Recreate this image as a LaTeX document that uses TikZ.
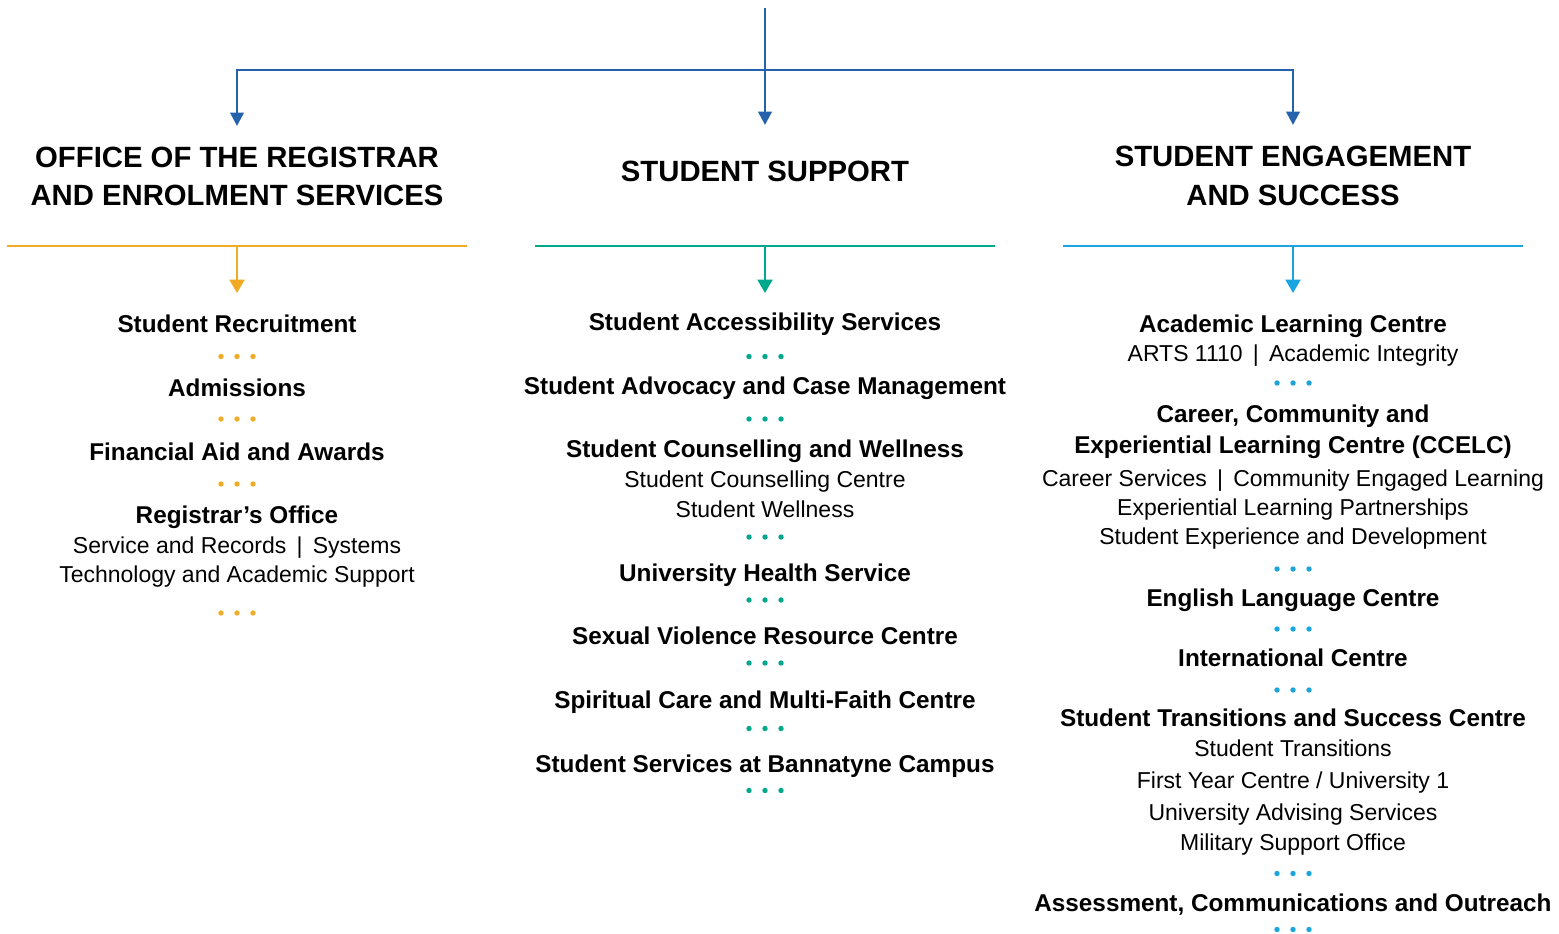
\documentclass[tikz,border=0pt]{standalone}
\usepackage{fontspec}
\setmainfont{Liberation Sans}
\usetikzlibrary{arrows.meta}

\definecolor{trunkblue}{RGB}{36,99,172}
\definecolor{regorange}{RGB}{241,170,36}
\definecolor{suppgreen}{RGB}{0,168,140}
\definecolor{engblue}{RGB}{27,165,224}

\tikzset{
  head/.style={font=\fontsize{29.3}{32}\selectfont\bfseries, anchor=base, inner sep=0pt},
  unit/.style={font=\fontsize{24.3}{28}\selectfont\bfseries, anchor=base, inner sep=0pt},
  sub/.style={font=\fontsize{23}{27}\selectfont, anchor=base, inner sep=0pt},
  trunk/.style={draw=trunkblue, line width=2.8pt},
  trunkarrow/.style={trunk, -{Triangle[width=13.5pt,length=13.5pt]}},
  rule/.style={line width=2.8pt},
  droparrow/.style={line width=2.4pt, -{Triangle[width=15pt,length=13.5pt]}},
  sepdots/.pic={\foreach \dx in {-16,0,16} \fill (\dx,0) circle[radius=2.7];}
}

\begin{document}
\begin{tikzpicture}[x=1pt,y=-1pt]
\useasboundingbox (0,0) rectangle (1559,934);

% ---- top trunk and the three branches
\coordinate (root) at (765,8);
\coordinate (junction) at (765,70);
\coordinate (tipL) at (237,126);
\coordinate (tipM) at (765,125);
\coordinate (tipR) at (1293,125);
\draw[trunk] (root) -- (junction);
\draw[trunkarrow] (junction) -| (tipL);
\draw[trunkarrow] (junction) -- (tipM);
\draw[trunkarrow] (junction) -| (tipR);

% ---- division headings
\node[head] (hdL1) at (237,167) {OFFICE OF THE REGISTRAR};
\node[head] (hdL2) at (237,205) {AND ENROLMENT SERVICES};
\node[head] (hdM)  at (765,181.5) {STUDENT SUPPORT};
\node[head] (hdR1) at (1293,166) {STUDENT ENGAGEMENT};
\node[head] (hdR2) at (1293,205) {AND SUCCESS};

% ---- coloured rules with drop arrows
\coordinate (ruleLw) at (7,246);    \coordinate (ruleLe) at (467,246);
\coordinate (ruleMw) at (535,246);  \coordinate (ruleMe) at (995,246);
\coordinate (ruleRw) at (1063,246); \coordinate (ruleRe) at (1523,246);
\coordinate (ruleL) at (237,246);   \coordinate (dropL) at (237,293);
\coordinate (ruleM) at (765,246);   \coordinate (dropM) at (765,293);
\coordinate (ruleR) at (1293,246);  \coordinate (dropR) at (1293,293);
\draw[rule, regorange] (ruleLw) -- (ruleLe);
\draw[rule, suppgreen] (ruleMw) -- (ruleMe);
\draw[rule, engblue]   (ruleRw) -- (ruleRe);
\draw[droparrow, regorange] (ruleL) -- (dropL);
\draw[droparrow, suppgreen] (ruleM) -- (dropM);
\draw[droparrow, engblue]   (ruleR) -- (dropR);

% ---- Office of the Registrar and Enrolment Services
\node[unit] (L1) at (237,332) {Student Recruitment};
\pic[regorange] at (237,356.5) {sepdots};
\node[unit] (L2) at (237,396) {Admissions};
\pic[regorange] at (237,419) {sepdots};
\node[unit] (L3) at (237,460) {Financial Aid and Awards};
\pic[regorange] at (237,484) {sepdots};
\node[unit] (L4) at (237,523) {Registrar’s Office};
\node[sub] (L4a) at (237,553) {Service and Records \,|\, Systems};
\node[sub] (L4b) at (237,582) {Technology and Academic Support};
\pic[regorange] at (237,613) {sepdots};

% ---- Student Support
\node[unit] (M1) at (765,330) {Student Accessibility Services};
\pic[suppgreen] at (765,356.5) {sepdots};
\node[unit] (M2) at (765,394) {Student Advocacy and Case Management};
\pic[suppgreen] at (765,419) {sepdots};
\node[unit] (M3) at (765,457) {Student Counselling and Wellness};
\node[sub] (M3a) at (765,487) {Student Counselling Centre};
\node[sub] (M3b) at (765,517) {Student Wellness};
\pic[suppgreen] at (765,537) {sepdots};
\node[unit] (M4) at (765,581) {University Health Service};
\pic[suppgreen] at (765,600) {sepdots};
\node[unit] (M5) at (765,644) {Sexual Violence Resource Centre};
\pic[suppgreen] at (765,663) {sepdots};
\node[unit] (M6) at (765,708) {Spiritual Care and Multi-Faith Centre};
\pic[suppgreen] at (765,728.5) {sepdots};
\node[unit] (M7) at (765,772) {Student Services at Bannatyne Campus};
\pic[suppgreen] at (765,790.5) {sepdots};

% ---- Student Engagement and Success
\node[unit] (R1) at (1293,332) {Academic Learning Centre};
\node[sub] (R1a) at (1293,361) {ARTS 1110 \,|\, Academic Integrity};
\pic[engblue] at (1293,383) {sepdots};
\node[unit] (R2) at (1293,422) {Career, Community and};
\node[unit] (R2b) at (1293,453.5) {Experiential Learning Centre (CCELC)};
\node[sub] (R2c) at (1293,486) {Career Services \,|\, Community Engaged Learning};
\node[sub] (R2d) at (1293,515.5) {Experiential Learning Partnerships};
\node[sub] (R2e) at (1293,544) {Student Experience and Development};
\pic[engblue] at (1293,569) {sepdots};
\node[unit] (R3) at (1293,606) {English Language Centre};
\pic[engblue] at (1293,629) {sepdots};
\node[unit] (R4) at (1293,666) {International Centre};
\pic[engblue] at (1293,690) {sepdots};
\node[unit] (R5) at (1293,726) {Student Transitions and Success Centre};
\node[sub] (R5a) at (1293,756.5) {Student Transitions};
\node[sub] (R5b) at (1293,788.5) {First Year Centre / University 1};
\node[sub] (R5c) at (1293,820.5) {University Advising Services};
\node[sub] (R5d) at (1293,850) {Military Support Office};
\pic[engblue] at (1293,873.5) {sepdots};
\node[unit] (R6) at (1293,911) {Assessment, Communications and Outreach};
\pic[engblue] at (1293,929.5) {sepdots};
\end{tikzpicture}
\end{document}
